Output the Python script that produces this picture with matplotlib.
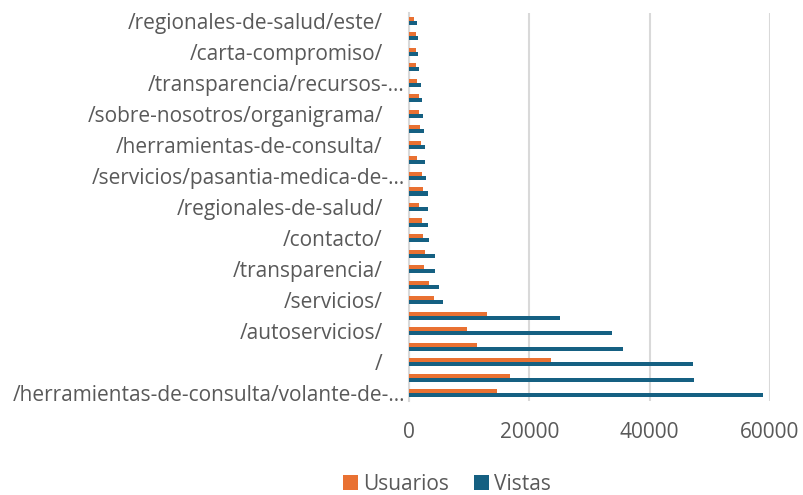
import matplotlib
matplotlib.use("Agg")
import matplotlib.pyplot as plt
import matplotlib.transforms as mtransforms
import numpy as np

# categories from bottom to top (unlabelled ones left blank)
categories = [
    "/herramientas-de-consulta/volante-de-...", "",
    "/", "",
    "/autoservicios/", "",
    "/servicios/", "",
    "/transparencia/", "",
    "/contacto/", "",
    "/regionales-de-salud/", "",
    "/servicios/pasantia-medica-de-...", "",
    "/herramientas-de-consulta/", "",
    "/sobre-nosotros/organigrama/", "",
    "/transparencia/recursos-...", "",
    "/carta-compromiso/", "",
    "/regionales-de-salud/este/",
]
usuarios = [14600, 16800, 23600, 11300, 9600, 12900, 4100, 3400, 2500, 2700,
            2300, 2200, 1700, 2300, 2100, 1400, 2000, 1800, 1700, 1600,
            1400, 1100, 1100, 1100, 900]
vistas = [58900, 47300, 47200, 35500, 33700, 25100, 5700, 5000, 4400, 4300,
          3400, 3200, 3100, 3100, 2900, 2700, 2700, 2500, 2400, 2100,
          2000, 1700, 1500, 1500, 1300]
xticks = [0, 20000, 40000, 60000]

plt.rcParams['font.family'] = ['Open Sans', 'DejaVu Sans']
fig = plt.figure(figsize=(8.04, 4.95), dpi=100)
ax = fig.add_axes([0.5087, 0.19, 0.449, 0.7837])

y = np.arange(len(categories))
h = 0.26
c_orange = "#E97132"
c_blue = "#156082"
ax.barh(y + h / 2, usuarios, height=h, color=c_orange, label="Usuarios", zorder=3)
ax.barh(y - h / 2, vistas, height=h, color=c_blue, label="Vistas", zorder=3)

ax.set_ylim(-0.5, len(categories) - 0.5)
ax.set_xlim(0, 60000)
ax.set_xticks(xticks)
ax.set_xticklabels([str(v) for v in xticks])
ax.set_yticks(y[::2])
ax.set_yticklabels([categories[i] for i in range(0, len(categories), 2)])
ax.grid(axis='x', color='#D9D9D9', linewidth=1.5, zorder=0)
for s in ['top', 'right', 'bottom']:
    ax.spines[s].set_visible(False)
ax.spines['left'].set_color('#D9D9D9')
ax.spines['left'].set_linewidth(1.5)
ax.tick_params(axis='both', length=0, colors='#595959', labelsize=15)
ax.tick_params(axis='y', pad=3)
ax.tick_params(axis='x', pad=15)

# full (non-truncated) labels sit a little further left, as in the reference
shift = mtransforms.ScaledTranslation(-0.22, 0, fig.dpi_scale_trans)
for lab in ax.get_yticklabels():
    if not lab.get_text().endswith("..."):
        lab.set_transform(lab.get_transform() + shift)

handles, labels = ax.get_legend_handles_labels()
fig.legend(handles, labels, loc='center', bbox_to_anchor=(0.556, 0.022),
           ncol=2, frameon=False, fontsize=15, labelcolor='#595959',
           handlelength=0.7, handleheight=0.7, handletextpad=0.25, columnspacing=1.2)

fig.savefig("out.png", dpi=100)
